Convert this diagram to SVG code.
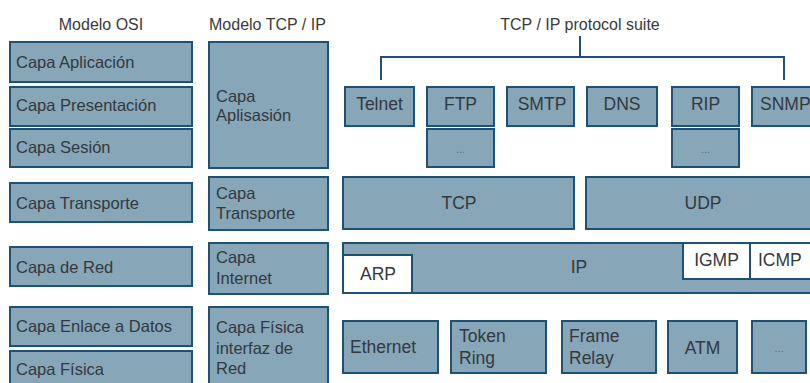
<svg xmlns="http://www.w3.org/2000/svg" width="810" height="383" viewBox="0 0 810 383">
<style>
.b{fill:#87a6b8;stroke:#1d5274;stroke-width:2}
.w{fill:#ffffff;stroke:#1d5274;stroke-width:2}
text{font-family:"Liberation Sans",Arial,sans-serif;fill:#33393e;font-size:16.5px}
.h{fill:#3a3a3a;font-size:16px}
.p{font-size:17.5px}
.c{text-anchor:middle}
.d{font-size:11px;fill:#5a6c78}
.l{fill:none;stroke:#1d5274;stroke-width:2}
</style>
<rect width="810" height="383" fill="#ffffff"/>
<g id="headers">
<text class="h c" x="101" y="30">Modelo OSI</text>
<text class="h" x="209" y="30">Modelo TCP / IP</text>
<text class="h c" x="580" y="30">TCP / IP protocol suite</text>
</g>
<g id="osi-app"><rect class="b" x="10" y="42" width="182" height="40"/><text x="16" y="68">Capa Aplicación</text></g>
<g id="osi-pres"><rect class="b" x="10" y="87" width="182" height="39"/><text x="16" y="111">Capa Presentación</text></g>
<g id="osi-ses"><rect class="b" x="10" y="129" width="182" height="38"/><text x="16" y="153">Capa Sesión</text></g>
<g id="osi-trans"><rect class="b" x="10" y="183" width="182" height="39"/><text x="16" y="209">Capa Transporte</text></g>
<g id="osi-red"><rect class="b" x="10" y="247" width="182" height="39"/><text x="16" y="273">Capa de Red</text></g>
<g id="osi-enlace"><rect class="b" x="10" y="307" width="182" height="39"/><text x="16" y="332">Capa Enlace a Datos</text></g>
<g id="osi-fis"><rect class="b" x="10" y="351" width="182" height="40"/><text x="16" y="375">Capa Física</text></g>
<g id="tcp-app"><rect class="b" x="209" y="42" width="119" height="126"/><text x="216" y="102">Capa</text><text x="216" y="121">Aplisasión</text></g>
<g id="tcp-trans"><rect class="b" x="209" y="177" width="119" height="53"/><text x="216" y="199">Capa</text><text x="216" y="219">Transporte</text></g>
<g id="tcp-inet"><rect class="b" x="209" y="243" width="119" height="51"/><text x="216" y="263">Capa</text><text x="216" y="284">Internet</text></g>
<g id="tcp-fis"><rect class="b" x="209" y="307" width="119" height="84"/><text x="216" y="333">Capa Física</text><text x="216" y="354">interfaz de</text><text x="216" y="374">Red</text></g>
<g id="connectors">
<path class="l" d="M580 36V57M381 80V57H784V80"/>
</g>
<g id="telnet"><rect class="b" x="345" y="87" width="69" height="39"/><text class="c p" x="379.5" y="110">Telnet</text></g>
<g id="ftp"><rect class="b" x="427" y="87" width="67" height="39"/><text class="c p" x="460.5" y="110">FTP</text></g>
<g id="smtp"><rect class="b" x="507" y="87" width="67" height="39"/><text class="c p" x="542" y="110">SMTP</text></g>
<g id="dns"><rect class="b" x="587" y="87" width="70" height="39"/><text class="c p" x="622" y="110">DNS</text></g>
<g id="rip"><rect class="b" x="672" y="87" width="67" height="39"/><text class="c p" x="705.5" y="110">RIP</text></g>
<g id="snmp"><rect class="b" x="752" y="87" width="60" height="39"/><text class="p" x="760" y="110">SNMP</text></g>
<g id="ftp-more"><rect class="b" x="427" y="129" width="67" height="38"/><text class="c d" x="460.5" y="153">...</text></g>
<g id="rip-more"><rect class="b" x="672" y="129" width="67" height="38"/><text class="c d" x="705.5" y="153">...</text></g>
<g id="tcp"><rect class="b" x="343" y="177" width="231" height="52"/><text class="c p" x="459" y="209">TCP</text></g>
<g id="udp"><rect class="b" x="586" y="177" width="226" height="52"/><text class="c p" x="703" y="209">UDP</text></g>
<g id="ip"><rect class="b" x="343" y="243" width="469" height="50"/><text class="c p" x="579" y="273">IP</text></g>
<g id="arp"><rect class="w" x="343" y="255" width="69" height="38"/><text class="c p" x="378" y="280">ARP</text></g>
<g id="igmp"><rect class="w" x="683" y="243" width="67" height="36"/><text class="c p" x="716.5" y="266">IGMP</text></g>
<g id="icmp"><rect class="w" x="750" y="243" width="62" height="36"/><text class="p" x="758" y="266">ICMP</text></g>
<g id="ethernet"><rect class="b" x="343" y="321" width="95" height="52"/><text class="p" x="350" y="353">Ethernet</text></g>
<g id="token"><rect class="b" x="451" y="321" width="95" height="52"/><text class="p" x="459" y="342">Token</text><text class="p" x="459" y="364">Ring</text></g>
<g id="frame"><rect class="b" x="562" y="321" width="94" height="52"/><text class="p" x="569" y="342">Frame</text><text class="p" x="569" y="364">Relay</text></g>
<g id="atm"><rect class="b" x="668" y="321" width="69" height="52"/><text class="c p" x="702.5" y="354">ATM</text></g>
<g id="link-more"><rect class="b" x="752" y="321" width="54" height="52"/><text class="c d" x="779" y="352">...</text></g>
</svg>
